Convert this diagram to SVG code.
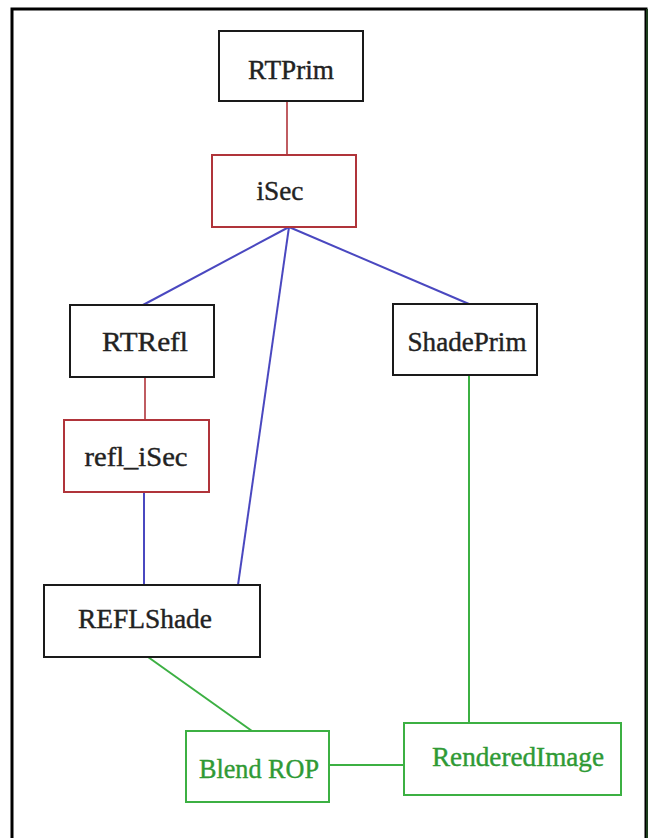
<svg xmlns="http://www.w3.org/2000/svg" width="650" height="838" viewBox="0 0 650 838">
<style>
.bk{fill:#fff;stroke:#1a1a1a;stroke-width:2}
.rd{fill:#fff;stroke:#b0343a;stroke-width:2}
.gn{fill:#fff;stroke:#3cb043;stroke-width:2}
text{font-family:"Liberation Serif","Times New Roman",serif;font-size:27px;text-anchor:middle}
.t{fill:#222;stroke:#222;stroke-width:0.4}
.tg{fill:#2f9a35;stroke:#2f9a35;stroke-width:0.4}
.lr{stroke:#b0343a;stroke-width:1.6;fill:none}
.lb{stroke:#4a48c0;stroke-width:2;fill:none}
.lg{stroke:#3cb043;stroke-width:2;fill:none}
</style>
<rect x="0" y="0" width="650" height="838" fill="#fff"/>
<path d="M12 840 V9 H646 V840" fill="none" stroke="#000" stroke-width="3"/>
<line x1="647" y1="9" x2="647" y2="840" stroke="#1c3d1c" stroke-width="2"/>
<g id="connectors">
<line class="lr" x1="287" y1="101" x2="287" y2="155"/>
<line class="lb" x1="289" y1="227" x2="143" y2="305"/>
<line class="lb" x1="289" y1="227" x2="238" y2="585"/>
<line class="lb" x1="289" y1="227" x2="469" y2="304"/>
<line class="lr" x1="145" y1="377" x2="145" y2="420"/>
<line class="lb" x1="144" y1="492" x2="144" y2="585"/>
<line class="lg" x1="148" y1="657" x2="252" y2="731"/>
<line class="lg" x1="469" y1="375" x2="469" y2="723"/>
<line class="lg" x1="329" y1="765" x2="404" y2="765"/>
</g>
<g id="RTPrim"><rect class="bk" x="219" y="31" width="144" height="70"/><text class="t" x="291" y="79" textLength="86" lengthAdjust="spacingAndGlyphs">RTPrim</text></g>
<g id="iSec"><rect class="rd" x="212" y="155" width="144" height="72"/><text class="t" x="280" y="200" textLength="47" lengthAdjust="spacingAndGlyphs">iSec</text></g>
<g id="RTRefl"><rect class="bk" x="70" y="305" width="144" height="72"/><text class="t" x="145" y="351" textLength="86" lengthAdjust="spacingAndGlyphs">RTRefl</text></g>
<g id="ShadePrim"><rect class="bk" x="393" y="304" width="144" height="71"/><text class="t" x="467" y="351" textLength="119" lengthAdjust="spacingAndGlyphs">ShadePrim</text></g>
<g id="refl_iSec"><rect class="rd" x="64" y="420" width="145" height="72"/><text class="t" x="136" y="466" textLength="103" lengthAdjust="spacingAndGlyphs">refl_iSec</text></g>
<g id="REFLShade"><rect class="bk" x="44" y="585" width="216" height="72"/><text class="t" x="145" y="628" textLength="134" lengthAdjust="spacingAndGlyphs">REFLShade</text></g>
<g id="BlendROP"><rect class="gn" x="186" y="731" width="143" height="71"/><text class="tg" x="259" y="778" textLength="120" lengthAdjust="spacingAndGlyphs">Blend ROP</text></g>
<g id="RenderedImage"><rect class="gn" x="404" y="723" width="217" height="72"/><text class="tg" x="518" y="766" textLength="172" lengthAdjust="spacingAndGlyphs">RenderedImage</text></g>
</svg>
